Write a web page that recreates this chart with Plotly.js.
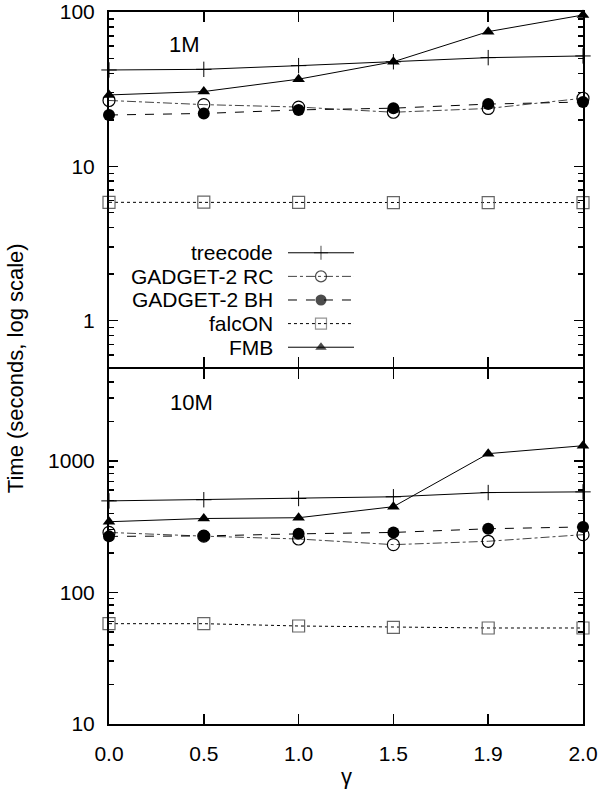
<!DOCTYPE html>
<html>
<head>
<meta charset="utf-8">
<script src="https://cdn.plot.ly/plotly-3.0.1.min.js"></script>
<style>
  html, body { margin: 0; padding: 0; background: #fff; }
  #chart { width: 600px; height: 796px; }
</style>
</head>
<body>
<div id="chart"></div>
<script>
// gamma values (equally spaced on the axis)
const gammaLabels = ['0.0', '0.5', '1.0', '1.5', '1.9', '2.0'];

// 1M particles (upper panel), seconds
const tree1M = [42.1, 42.5, 44.9, 47.6, 50.6, 51.9];
const rc1M = [26.7, 25.1, 24.2, 22.4, 23.7, 27.6];
const bh1M = [21.5, 22.0, 23.2, 23.8, 25.3, 26.1];
const falcon1M = [5.84, 5.85, 5.84, 5.82, 5.82, 5.82];
const fmb1M = [29.0, 30.5, 36.7, 47.6, 74.6, 95.6];

// 10M particles (lower panel), seconds
const tree10M = [497, 507, 518, 534, 575, 582];
const rc10M = [286, 268, 255, 231, 245, 275];
const bh10M = [267, 269, 279, 286, 305, 315];
const falcon10M = [57.9, 57.9, 55.6, 54.3, 53.7, 53.7];
const fmb10M = [345, 365, 370, 449, 1136, 1305];

const seriesNames = ['treecode', 'GADGET-2 RC', 'GADGET-2 BH', 'falcON', 'FMB'];
const panelLabels = ['1M', '10M'];

const FONT = 'Liberation Sans, Arial, Helvetica, sans-serif';
const GAP = 1 / 712; // half of the axis line width, so both frames share one line

// line / marker style per series
const styles = [
    { line: { color: '#000', width: 1, dash: 'solid' },
      marker: { symbol: 'cross-thin-open', size: 11, color: '#000', line: { color: '#000', width: 1 } } },
    { line: { color: '#444', width: 1, dash: 'dashdot' },
      marker: { symbol: 'circle-open', size: 12, color: '#000', line: { color: '#000', width: 1.2 } } },
    { line: { color: '#000', width: 1, dash: 'dash' },
      marker: { symbol: 'circle', size: 12, color: '#000', line: { width: 0 } } },
    { line: { color: '#000', width: 1, dash: 'dot' },
      marker: { symbol: 'square-open', size: 12, color: '#666', line: { color: '#666', width: 1.2 } } },
    { line: { color: '#000', width: 1, dash: 'solid' },
      marker: { symbol: 'triangle-up', size: 11, color: '#000', line: { width: 0 } } }
];

function panelTraces(values, xa, ya) {
    return values.map((vals, i) => ({
        x: gammaLabels,
        y: vals,
        xaxis: xa,
        yaxis: ya,
        type: 'scatter',
        mode: 'lines+markers',
        name: seriesNames[i],
        showlegend: false,
        cliponaxis: false,
        line: styles[i].line,
        marker: styles[i].marker
    }));
}

const traces = [
    ...panelTraces([tree1M, rc1M, bh1M, falcon1M, fmb1M], 'x2', 'y2'),
    ...panelTraces([tree10M, rc10M, bh10M, falcon10M, fmb10M], 'x', 'y')
];

// hand-made legend: text on the left, sample on the right
seriesNames.forEach((name, i) => {
    traces.push({
        x: [0, 1, 2],
        y: [i, i, i],
        xaxis: 'x3',
        yaxis: 'y3',
        type: 'scatter',
        mode: 'lines+markers',
        showlegend: false,
        hoverinfo: 'skip',
        cliponaxis: false,
        line: styles[i].line,
        marker: { ...styles[i].marker, size: [0, styles[i].marker.size - 1, 0] }
    });
});

const xBase = {
    type: 'category',
    categoryorder: 'array',
    categoryarray: gammaLabels,
    range: [0, gammaLabels.length - 1],
    showgrid: false,
    zeroline: false,
    showline: true,
    linecolor: '#000',
    linewidth: 2,
    mirror: 'ticks',
    ticks: 'inside',
    ticklen: 10,
    tickwidth: 1.5,
    tickcolor: '#000',
    tickfont: { family: FONT, size: 21, color: '#000' }
};

const yBase = {
    type: 'log',
    dtick: 1,
    exponentformat: 'none',
    showgrid: false,
    zeroline: false,
    showline: true,
    linecolor: '#000',
    linewidth: 2,
    mirror: 'ticks',
    ticks: 'inside',
    ticklen: 9,
    tickwidth: 1.5,
    tickcolor: '#000',
    ticklabelstandoff: 8,
    tickfont: { family: FONT, size: 21, color: '#000' },
    minor: { ticks: 'inside', ticklen: 5, tickwidth: 1.5, tickcolor: '#000', dtick: 'D1', showgrid: false }
};

const legendTextX = 0.348;
const annotations = seriesNames.map((name, i) => ({
    text: name,
    xref: 'paper',
    yref: 'y3',
    x: legendTextX,
    y: i,
    xanchor: 'right',
    yanchor: 'middle',
    borderpad: 0,
    showarrow: false,
    font: { family: FONT, size: 21, color: '#000' }
}));

annotations.push(
    { text: panelLabels[0], xref: 'paper', yref: 'paper', x: 0.16, y: 0.954,
      xanchor: 'center', yanchor: 'middle', showarrow: false,
      font: { family: FONT, size: 22, color: '#000' } },
    { text: panelLabels[1], xref: 'paper', yref: 'paper', x: 0.173, y: 0.452,
      xanchor: 'center', yanchor: 'middle', showarrow: false,
      font: { family: FONT, size: 22, color: '#000' } },
    { text: 'Time (seconds, log scale)', xref: 'paper', yref: 'paper', x: -0.198, y: 0.5,
      xanchor: 'center', yanchor: 'middle', textangle: -90, showarrow: false,
      font: { family: FONT, size: 22, color: '#000' } },
    { text: '\u03B3', xref: 'paper', yref: 'paper', x: 0.5, y: -0.074,
      xanchor: 'center', yanchor: 'middle', showarrow: false,
      font: { family: FONT, size: 22, color: '#000' } }
);

const layout = {
    width: 600,
    height: 796,
    margin: { l: 109, r: 17, t: 12, b: 72 },
    paper_bgcolor: '#fff',
    plot_bgcolor: 'rgba(0,0,0,0)',
    showlegend: false,
    xaxis: { ...xBase, anchor: 'y', domain: [0, 1], ticklabelstandoff: 10 },
    xaxis2: { ...xBase, anchor: 'y2', domain: [0, 1], matches: 'x', showticklabels: false },
    yaxis: { ...yBase, anchor: 'x', domain: [0, 0.5 - GAP], range: [1, Math.log10(5000)] },
    yaxis2: { ...yBase, anchor: 'x2', domain: [0.5 + GAP, 1], range: [Math.log10(0.5), 2] },
    xaxis3: { anchor: 'y3', domain: [0.3776, 0.5169], range: [0, 2], visible: false, fixedrange: true },
    yaxis3: { anchor: 'x3', domain: [0.5126, 0.6784], range: [4.5, -0.5], visible: false, fixedrange: true },
    annotations: annotations
};

Plotly.newPlot('chart', traces, layout, { displayModeBar: false, staticPlot: true });
</script>
</body>
</html>
